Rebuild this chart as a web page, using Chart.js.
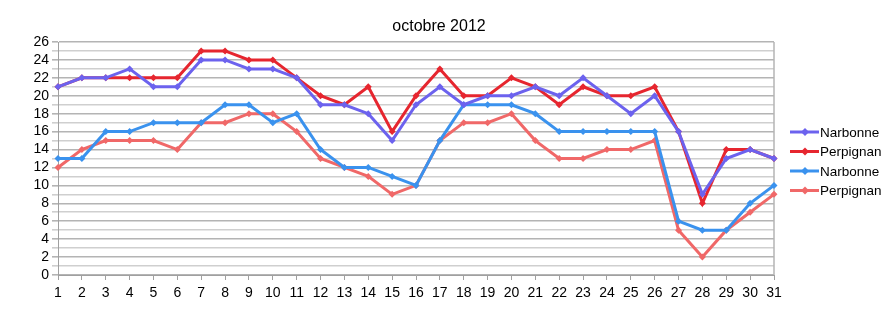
<!DOCTYPE html>
<html lang="fr">
<head>
<meta charset="UTF-8">
<title>octobre 2012</title>
<script src="https://cdn.jsdelivr.net/npm/chart.js@4"></script>
<style>
  html, body { margin: 0; padding: 0; background: #fff; }
  #wrap { width: 890px; height: 324px; position: relative; }
</style>
</head>
<body>
<div id="wrap"><canvas id="myChart" width="890" height="324"></canvas></div>
<script>
// jours du mois
const days = [];
for (let d = 1; d <= 31; d++) days.push(String(d));

// valeurs
const narbonneA  = [21,22,22,23,21,21,24,24,23,23,22,19,19,18,15,19,21,19,20,20,21,20,22,20,18,20,16,9,13,14,13];
const perpignanA = [21,22,22,22,22,22,25,25,24,24,22,20,19,21,16,20,23,20,20,22,21,19,21,20,20,21,16,8,14,14,13];
const narbonneB  = [13,13,16,16,17,17,17,19,19,17,18,14,12,12,11,10,15,19,19,19,18,16,16,16,16,16,6,5,5,8,10];
const perpignanB = [12,14,15,15,15,14,17,17,18,18,16,13,12,11,9,10,15,17,17,18,15,13,13,14,14,15,5,2,5,7,9];

const labels = ['Narbonne', 'Perpignan', 'Narbonne', 'Perpignan'];
const colors = ['#6c62ee', '#e6262f', '#3a92ee', '#f06868'];
const series = [narbonneA, perpignanA, narbonneB, perpignanB];

const FONT = 'Liberation Sans, Arial, sans-serif';

function makeSet(i) {
  return {
    label: labels[i],
    data: series[i],
    borderColor: colors[i],
    backgroundColor: colors[i],
    borderWidth: 3,
    pointStyle: 'rectRot',
    pointRadius: 3.5,
    pointBorderWidth: 0,
    tension: 0
  }
}

// cadre droit, titre + légende dessinés à la main
const extras = {
  id: 'extras',
  beforeDatasetsDraw(chart) {
    const a = chart.chartArea;
    const ctx = chart.ctx;
    ctx.save();
    ctx.strokeStyle = '#b4b4b4';
    ctx.lineWidth = 1.5;
    ctx.beginPath();
    ctx.moveTo(a.right, a.top);
    ctx.lineTo(a.right, a.bottom);
    ctx.stroke();
    ctx.restore();
  },
  afterDraw(chart) {
    const ctx = chart.ctx;
    ctx.save();
    ctx.fillStyle = '#000';
    ctx.font = '16px ' + FONT;
    ctx.textAlign = 'center';
    ctx.textBaseline = 'middle';
    ctx.fillText('octobre 2012', 439, 27);

    ctx.font = '13.5px ' + FONT;
    ctx.textAlign = 'left';
    chart.data.datasets.forEach((ds, i) => {
      const y = 132 + i * 19.5;
      ctx.strokeStyle = ds.borderColor;
      ctx.fillStyle = ds.borderColor;
      ctx.lineWidth = 3;
      ctx.beginPath();
      ctx.moveTo(790, y);
      ctx.lineTo(819, y);
      ctx.stroke();
      ctx.beginPath();
      ctx.moveTo(805, y - 4);
      ctx.lineTo(809, y);
      ctx.lineTo(805, y + 4);
      ctx.lineTo(801, y);
      ctx.closePath();
      ctx.fill();
      ctx.fillStyle = '#000';
      ctx.fillText(ds.label, 820, y + 1);
    });
    ctx.restore();
  }
}

const ctx = document.getElementById('myChart').getContext('2d');
new Chart(ctx, {
  type: 'line',
  data: {
    labels: days,
    datasets: [0, 1, 2, 3].map(makeSet)
  },
  options: {
    responsive: false,
    animation: false,
    layout: { padding: { top: 42, right: 116, left: 0, bottom: 0 } },
    plugins: {
      legend: { display: false },
      title: { display: false },
      tooltip: { enabled: false }
    },
    scales: {
      x: {
        offset: false,
        grid: { display: true, drawOnChartArea: false, color: '#a0a0a0', tickLength: 5 },
        border: { color: '#a0a0a0', width: 1 },
        ticks: { color: '#000', font: { family: FONT, size: 14 }, padding: 5, maxRotation: 0, autoSkip: false },
        afterFit(scale) { scale.height = 49; }
      },
      y: {
        min: 0,
        max: 26,
        grid: {
          color: c => (c.tick && c.tick.value % 2 === 0) ? '#b4b4b4' : '#cfcfcf',
          lineWidth: 1.6,
          tickLength: 6
        },
        border: { color: '#a0a0a0', width: 1 },
        ticks: {
          stepSize: 1,
          autoSkip: false,
          color: '#000',
          font: { family: FONT, size: 14 },
          padding: 3,
          callback: v => (v % 2 === 0 ? v : '')
        },
        afterFit(scale) { scale.width = 58; }
      }
    }
  },
  plugins: [extras]
});
</script>
</body>
</html>
